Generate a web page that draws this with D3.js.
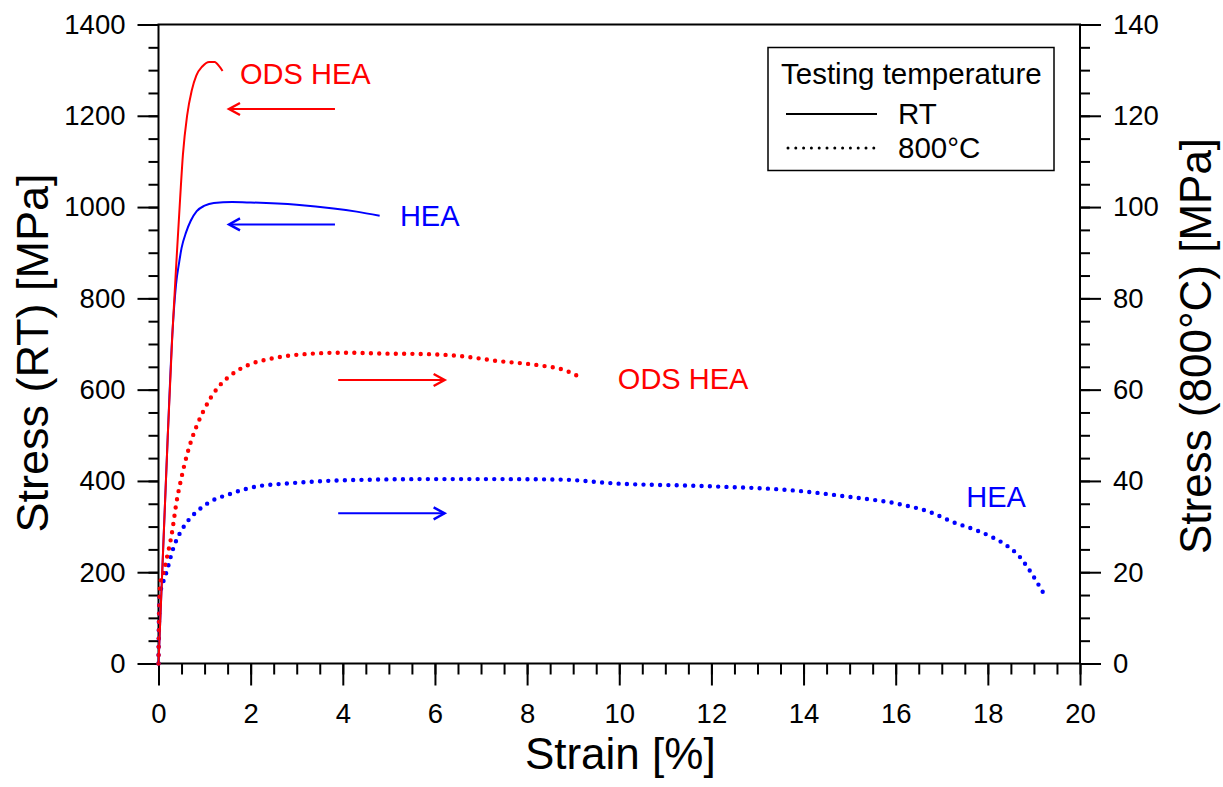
<!DOCTYPE html>
<html>
<head>
<meta charset="utf-8">
<script src="https://cdn.jsdelivr.net/npm/d3@7"></script>
<style>
  body { margin: 0; background: #fff; }
  svg { display: block; font-family: "Liberation Sans", Arial, sans-serif; }
</style>
</head>
<body>
<div id="chart"></div>
<script>
// strain [%], stress [MPa] (RT curves on left axis)
const rtOdsHea = [[0,0],[0.1,248],[0.2,496],[0.3,720],[0.4,900],[0.47,1020],[0.53,1115],[0.62,1200],[0.72,1255],[0.82,1288],[0.95,1308],[1.1,1318],[1.22,1318],[1.32,1308],[1.39,1298]]
const rtHea = [[0,0],[0.1,248],[0.2,496],[0.3,720],[0.38,830],[0.45,880],[0.5,910],[0.6,945],[0.7,970],[0.83,991],[1.0,1003],[1.2,1009],[1.6,1011],[2.0,1010],[3.0,1005],[3.8,997],[4.3,990],[4.8,981]]
// 800°C curves, stress on right axis [MPa]
const hotOdsHea = [[0,0],[0.01,8],[0.02,14],[0.04,17.8],[0.1,19.6],[0.18,23.1],[0.29,28.5],[0.39,35.3],[0.5,40.8],[0.61,45.4],[0.73,49.4],[0.86,52.8],[1.0,55.8],[1.15,58.5],[1.3,60.6],[1.5,62.6],[1.7,64.1],[2.0,65.6],[2.5,66.9],[3.2,67.8],[4.0,68.1],[4.9,67.9],[5.8,67.8],[6.6,67.3],[7.34,66.3],[8.28,65.3],[8.8,64.3],[9.19,62.5]]
const hotHea = [[0,0],[0.005,7],[0.01,10.6],[0.02,14.3],[0.05,16.1],[0.1,17.8],[0.16,19.6],[0.21,21.3],[0.3,24.6],[0.36,26.3],[0.5,29.2],[0.65,31.4],[0.89,33.8],[1.19,35.8],[1.51,37.0],[1.88,38.2],[2.2,38.9],[2.74,39.4],[3.65,40.0],[4.73,40.3],[5.82,40.4],[7.34,40.4],[8.7,40.3],[10,39.4],[11.75,38.9],[13.9,37.8],[15.0,36.5],[16.09,34.9],[16.74,33.2],[17.24,31.0],[17.75,29.2],[18.11,27.6],[18.4,25.9],[18.69,23.4],[18.9,20.5],[19.19,15.7]]

// arrows: from strain, to strain, stress on left axis
const arrows = [
  { from: 3.83, to: 1.53, stress: 1215, color: 'red' },
  { from: 3.83, to: 1.53, stress: 962, color: 'blue' },
  { from: 3.9, to: 6.21, stress: 621, color: 'red' },
  { from: 3.9, to: 6.21, stress: 329, color: 'blue' },
]
const curveLabels = [
  { text: 'ODS HEA', strain: 1.77, stress: 1270, color: 'red' },
  { text: 'HEA', strain: 5.24, stress: 958, color: 'blue' },
  { text: 'ODS HEA', strain: 9.97, stress: 601, color: 'red' },
  { text: 'HEA', strain: 17.53, stress: 343, color: 'blue' },
]
const xTicks = d3.range(0, 21, 2)
const yLeftTicks = d3.range(0, 1401, 200)
const yRightTicks = d3.range(0, 141, 20)

const width = 1223
const height = 787
const mLeft = 158.5, mRight = 1080, mTop = 24.5, mBottom = 663.5

const x = d3.scaleLinear([0, 20], [mLeft, mRight])
const yL = d3.scaleLinear([0, 1400], [mBottom, mTop])
const yR = d3.scaleLinear([0, 140], [mBottom, mTop])

const svg = d3.select('#chart').append('svg').attr('width', width).attr('height', height)

const tickFont = g => {
  g.select('.domain').remove()
  g.selectAll('line').attr('stroke', '#000').attr('stroke-width', 2)
  g.selectAll('text').attr('font-size', 27.5).attr('fill', '#000')
  g.attr('font-family', null).attr('font-size', null)
}
const fmt = d3.format('d')

// minor ticks
svg.append('g').attr('transform', `translate(${mLeft},0)`)
  .call(d3.axisLeft(yL).tickValues(d3.range(0, 1401, 50)).tickSize(10).tickFormat(''))
  .call(tickFont)
svg.append('g').attr('transform', `translate(${mRight},0)`)
  .call(d3.axisRight(yR).tickValues(d3.range(0, 141, 5)).tickSize(10).tickFormat(''))
  .call(tickFont)
svg.append('g').attr('transform', `translate(0,${mBottom})`)
  .call(d3.axisBottom(x).tickValues(d3.range(0, 20.01, 0.5)).tickSize(11).tickFormat(''))
  .call(tickFont)

// major ticks
svg.append('g').attr('transform', `translate(${mLeft},0)`)
  .call(d3.axisLeft(yL).tickValues(yLeftTicks).tickSize(21).tickPadding(12).tickFormat(fmt))
  .call(tickFont)
svg.append('g').attr('transform', `translate(${mRight},0)`)
  .call(d3.axisRight(yR).tickValues(yRightTicks).tickSize(21).tickPadding(12).tickFormat(fmt))
  .call(tickFont)
svg.append('g').attr('transform', `translate(0,${mBottom})`)
  .call(d3.axisBottom(x).tickValues(xTicks).tickSize(22).tickPadding(17.5).tickFormat(fmt))
  .call(tickFont)

svg.append('rect')
  .attr('x', mLeft).attr('y', mTop)
  .attr('width', mRight - mLeft).attr('height', mBottom - mTop)
  .attr('fill', 'none').attr('stroke', '#000').attr('stroke-width', 2)

// axis titles
svg.append('text')
  .attr('transform', `translate(48,353) rotate(-90)`)
  .attr('text-anchor', 'middle').attr('font-size', 45)
  .text('Stress (RT) [MPa]')
svg.append('text')
  .attr('transform', `translate(1211,346) rotate(-90)`)
  .attr('text-anchor', 'middle').attr('font-size', 44)
  .text('Stress (800°C) [MPa]')
svg.append('text')
  .attr('x', (mLeft + mRight) / 2 + 1).attr('y', 769)
  .attr('text-anchor', 'middle').attr('font-size', 44)
  .text('Strain [%]')

// curves
const lineL = d3.line().x(d => x(d[0])).y(d => yL(d[1])).curve(d3.curveMonotoneX)
const lineR = d3.line().x(d => x(d[0])).y(d => yR(d[1])).curve(d3.curveMonotoneX)

const plot = svg.append('g').attr('fill', 'none')
plot.append('path').attr('d', lineR(hotHea)).attr('stroke', 'blue')
  .attr('stroke-width', 4.4).attr('stroke-linecap', 'round').attr('stroke-dasharray', '0 8.3')
plot.append('path').attr('d', lineR(hotOdsHea)).attr('stroke', 'red')
  .attr('stroke-width', 4.4).attr('stroke-linecap', 'round').attr('stroke-dasharray', '0 8.3')
plot.append('path').attr('d', lineL(rtHea)).attr('stroke', 'blue').attr('stroke-width', 2)
plot.append('path').attr('d', lineL(rtOdsHea)).attr('stroke', 'red').attr('stroke-width', 2)

// arrows
const arrowG = svg.append('g').attr('fill', 'none').attr('stroke-width', 2)
arrows.forEach(a => {
  const x0 = x(a.from), x1 = x(a.to), y = yL(a.stress)
  const dir = x1 > x0 ? 1 : -1
  arrowG.append('line').attr('x1', x0).attr('x2', x1).attr('y1', y).attr('y2', y).attr('stroke', a.color)
  arrowG.append('path')
    .attr('d', `M${x1 - dir * 11},${y - 6}L${x1},${y}L${x1 - dir * 11},${y + 6}`)
    .attr('stroke', a.color).attr('stroke-width', 2.4)
})

svg.append('g').selectAll('text').data(curveLabels).join('text')
  .attr('x', d => x(d.strain)).attr('y', d => yL(d.stress))
  .attr('fill', d => d.color).attr('font-size', 29)
  .text(d => d.text)

// legend
const lg = svg.append('g')
lg.append('rect').attr('x', 768).attr('y', 47.5).attr('width', 286).attr('height', 123)
  .attr('fill', '#fff').attr('stroke', '#000').attr('stroke-width', 1.5)
lg.append('text').attr('x', 781).attr('y', 84).attr('font-size', 29.5).text('Testing temperature')
lg.append('line').attr('x1', 786).attr('x2', 877).attr('y1', 114).attr('y2', 114)
  .attr('stroke', '#000').attr('stroke-width', 1.8)
lg.append('line').attr('x1', 788).attr('x2', 874).attr('y1', 148).attr('y2', 148)
  .attr('stroke', '#000').attr('stroke-width', 3).attr('stroke-linecap', 'round').attr('stroke-dasharray', '0 7.8')
lg.append('text').attr('x', 898).attr('y', 124).attr('font-size', 29.5).text('RT')
lg.append('text').attr('x', 898).attr('y', 158).attr('font-size', 29.5).text('800°C')
</script>
</body>
</html>
